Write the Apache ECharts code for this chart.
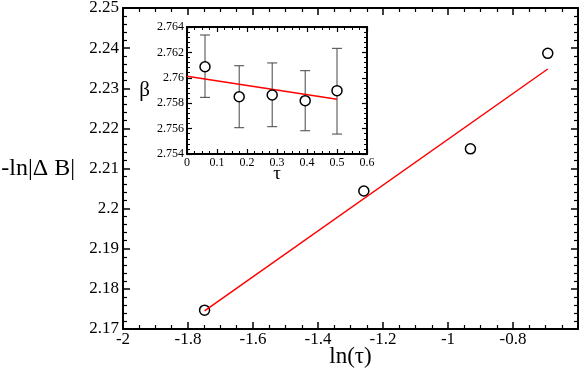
<!DOCTYPE html>
<html>
<head>
<meta charset="utf-8">
<script src="https://cdn.jsdelivr.net/npm/echarts@6/dist/echarts.min.js"></script>
<style>
  html, body { margin: 0; padding: 0; background: #fff; }
  #main { width: 581px; height: 373px; }
</style>
</head>
<body>
<div id="main"></div>
<script>
// main plot: -ln|dB| against ln(tau)
const lnTau = [-1.749, -1.259, -0.931, -0.693];
const lnDB = [2.1747, 2.2044, 2.2149, 2.2387];
// fitted line end points
const fitX = [-1.749, -0.693];
const fitY = [2.1745, 2.2348];

// inset: beta against tau, with error bars
const tau = [0.06, 0.174, 0.284, 0.394, 0.5];
const beta = [2.76087, 2.75851, 2.75865, 2.7582, 2.75899];
const betaLo = [2.75846, 2.75607, 2.75615, 2.75583, 2.75557];
const betaHi = [2.76337, 2.76095, 2.76117, 2.76056, 2.76232];
const insetFitX = [0, 0.5];
const insetFitY = [2.76012, 2.75831];

const font = "Liberation Serif";
const mychart = echarts.init(document.getElementById("main"));

// axis with inside ticks on all four sides, like the original plot
function axis(opt) {
	return Object.assign({
		type: "value",
		nameMoveOverlap: false,
		axisLine: { show: true, onZero: false, lineStyle: { color: "#000", width: 2 } },
		axisTick: { show: true, inside: true, length: 7, lineStyle: { color: "#000", width: 1.5 } },
		minorTick: { show: true, length: 4, lineStyle: { color: "#000", width: 1.2 } },
		splitLine: { show: false },
		axisLabel: { show: false }
	}, opt);
}

// smaller ticks for the inset
const insetLine = { show: true, onZero: false, lineStyle: { color: "#000", width: 2 } };
const insetTick = { show: true, inside: true, length: 5, lineStyle: { color: "#000", width: 1.2 } };
const insetMinor = (n) => ({ show: true, splitNumber: n, length: 3, lineStyle: { color: "#000", width: 1 } });
const mainMinor = (n) => ({ show: true, splitNumber: n, length: 4, lineStyle: { color: "#000", width: 1.2 } });

const option = {
	animation: false,
	grid: [
		{ left: 123, right: 3, top: 8, bottom: 44, outerBoundsMode: "none" },
		{
			left: 187, right: 214, top: 27, bottom: 219, outerBoundsMode: "none",
			show: true, backgroundColor: "#fff", borderWidth: 0, z: 5
		}
	],
	xAxis: [
		axis({
			gridIndex: 0, position: "bottom", min: -2, max: -0.6, interval: 0.2,
			minorTick: mainMinor(4),
			axisLabel: { show: true, showMaxLabel: false, color: "#000", fontFamily: font, fontSize: 17, margin: 2 },
			name: "ln(τ)", nameLocation: "middle", nameGap: 16,
			nameTextStyle: { color: "#000", fontFamily: font, fontSize: 23, verticalAlign: "top" }
		}),
		axis({ gridIndex: 0, position: "top", min: -2, max: -0.6, interval: 0.2, minorTick: mainMinor(4) }),
		axis({
			gridIndex: 1, position: "bottom", min: 0, max: 0.6, interval: 0.1, z: 6,
			axisLine: insetLine, axisTick: insetTick, minorTick: insetMinor(4),
			axisLabel: { show: true, color: "#000", fontFamily: font, fontSize: 12, margin: 3 },
			name: "τ", nameLocation: "middle", nameGap: 11,
			nameTextStyle: { color: "#000", fontFamily: font, fontSize: 19, verticalAlign: "top" }
		}),
		axis({
			gridIndex: 1, position: "top", min: 0, max: 0.6, interval: 0.1, z: 6,
			axisLine: insetLine, axisTick: insetTick, minorTick: insetMinor(4)
		})
	],
	yAxis: [
		axis({
			gridIndex: 0, position: "left", min: 2.17, max: 2.25, interval: 0.01,
			minorTick: mainMinor(5),
			axisLabel: { show: true, color: "#000", fontFamily: font, fontSize: 17, margin: 4 },
			name: "-ln|Δ B|", nameLocation: "middle", nameRotate: 0, nameGap: 48,
			nameTextStyle: { color: "#000", fontFamily: font, fontSize: 24 }
		}),
		axis({ gridIndex: 0, position: "right", min: 2.17, max: 2.25, interval: 0.01, minorTick: mainMinor(5) }),
		axis({
			gridIndex: 1, position: "left", min: 2.754, max: 2.764, interval: 0.002, z: 6,
			axisLine: insetLine, axisTick: insetTick, minorTick: insetMinor(5),
			axisLabel: { show: true, color: "#000", fontFamily: font, fontSize: 12, margin: 3 },
			name: "β", nameLocation: "middle", nameRotate: 0, nameGap: 37,
			nameTextStyle: { color: "#000", fontFamily: font, fontSize: 21 }
		}),
		axis({
			gridIndex: 1, position: "right", min: 2.754, max: 2.764, interval: 0.002, z: 6,
			axisLine: insetLine, axisTick: insetTick, minorTick: insetMinor(5)
		})
	],
	series: [
		{
			type: "line", xAxisIndex: 0, yAxisIndex: 0,
			data: fitX.map((x, i) => [x, fitY[i]]),
			showSymbol: false, lineStyle: { color: "#ff0000", width: 1.5 }
		},
		{
			type: "scatter", xAxisIndex: 0, yAxisIndex: 0,
			data: lnTau.map((x, i) => [x, lnDB[i]]),
			symbol: "circle", symbolSize: 10,
			itemStyle: { color: "rgba(0,0,0,0)", borderColor: "#000", borderWidth: 1.5, opacity: 1 }
		},
		{
			// error bars
			type: "custom", xAxisIndex: 2, yAxisIndex: 2, z: 7,
			data: tau.map((t, i) => [t, betaLo[i], betaHi[i]]),
			encode: { x: 0, y: [1, 2] },
			renderItem: (params, api) => {
				const top = api.coord([api.value(0), api.value(2)]);
				const bot = api.coord([api.value(0), api.value(1)]);
				const w = 5;
				const st = { stroke: "#444", lineWidth: 1 };
				return {
					type: "group",
					children: [
						{ type: "line", shape: { x1: top[0], y1: top[1], x2: bot[0], y2: bot[1] }, style: st },
						{ type: "line", shape: { x1: top[0] - w, y1: top[1], x2: top[0] + w, y2: top[1] }, style: st },
						{ type: "line", shape: { x1: bot[0] - w, y1: bot[1], x2: bot[0] + w, y2: bot[1] }, style: st }
					]
				};
			}
		},
		{
			type: "line", xAxisIndex: 2, yAxisIndex: 2, z: 8,
			data: insetFitX.map((x, i) => [x, insetFitY[i]]),
			showSymbol: false, lineStyle: { color: "#ff0000", width: 1.5 }
		},
		{
			type: "scatter", xAxisIndex: 2, yAxisIndex: 2, z: 9,
			data: tau.map((t, i) => [t, beta[i]]),
			symbol: "circle", symbolSize: 10,
			itemStyle: { color: "#fff", borderColor: "#000", borderWidth: 1.5, opacity: 1 }
		}
	]
};

mychart.setOption(option);
</script>
</body>
</html>
